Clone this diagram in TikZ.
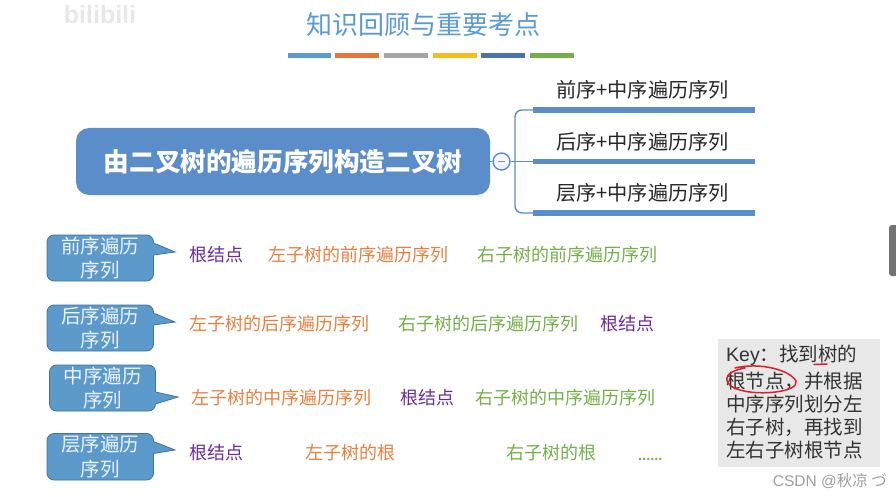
\documentclass[tikz,border=0pt]{standalone}
\usepackage{fontspec}
\setmainfont{Noto Sans CJK SC}
\newfontfamily\latinf{Liberation Sans}
\usetikzlibrary{calc}
\definecolor{tblue}{HTML}{5B9BD5}
\definecolor{mblue}{HTML}{5B8DCB}
\definecolor{cblue}{HTML}{5C9ACB}
\definecolor{cedge}{HTML}{41719C}
\definecolor{porange}{HTML}{E8743B}
\definecolor{pgray}{HTML}{A5A5A5}
\definecolor{pyellow}{HTML}{F5BE1E}
\definecolor{pblue}{HTML}{4A6FB5}
\definecolor{pgreen}{HTML}{74B04A}
\definecolor{lorange}{HTML}{E9803F}
\definecolor{lgreen}{HTML}{74B04A}
\definecolor{lpurple}{HTML}{6B2C9B}
\definecolor{keybg}{HTML}{E8E8E8}
\definecolor{keyred}{HTML}{D8202A}
\tikzset{
  fs/.style={font=\fontsize{#1}{#1}\selectfont},
  titletext/.style={fs=26,text=tblue,inner sep=0pt},
  bar/.style={fill=#1,draw=none},
  mainbox/.style={fill=mblue,draw=none,rounded corners=13pt,minimum width=414pt,minimum height=67pt,inner sep=0pt,text=white,font=\fontsize{25.6}{25.6}\selectfont\bfseries},
  collapse/.style={circle,draw=mblue,line width=1.4pt,fill=blue!4,minimum size=17pt,inner sep=0pt},
  branch/.style={draw=mblue,line width=1.4pt},
  leafline/.style={draw=mblue,line width=5.2pt},
  leaftext/.style={fs=20.2,text=black!85,inner sep=0pt},
  seqtext/.style={fs=18,inner sep=0pt,anchor=west},
  root/.style={seqtext,text=lpurple},
  lefttree/.style={seqtext,text=lorange},
  righttree/.style={seqtext,text=lgreen},
  calloutbox/.style={fill=cblue,draw=cedge,line width=0.8pt,rounded corners=7pt},
  callouttail/.style={fill=cblue,draw=cedge,line width=0.8pt,line join=miter},
  callouttext/.style={fs=19.5,text=white!88!cblue,align=center,inner sep=0pt},
  keytext/.style={fs=19.5,text=black!80,inner sep=0pt,anchor=west},
  redmark/.style={draw=keyred,line width=1.5pt,line cap=round}
}
\newcommand{\seqcallout}[8]{% name, x0, y0, x1, y1, tail top, tip, text
  \draw[calloutbox] (#2,#3) rectangle (#4,#5);
  \draw[callouttail] (#4,#6) -- #7 -- (#4,#6+12);
  \fill[cblue] (#4-1,#6+0.2) rectangle (#4+0.6,#6+11.8);
  \node[callouttext,minimum width=100pt] (#1) at ({(#2+#4)/2},{(#3+#5)/2}) {#8};
}
\begin{document}
\begin{tikzpicture}[x=1pt,y=-1pt]
\useasboundingbox (0,0) rectangle (896,497);
\fill[white] (0,0) rectangle (896,497);
% watermark and scroll handle
\node[inner sep=0pt,text=black!9,font=\fontsize{25}{25}\selectfont\bfseries\latinf] (wm) at (100,15) {bilibili};
\fill[black!55,rounded corners=3pt] (889,225) rectangle (899,276);
% title
\node[titletext] (title) at (423,25) {知识回顾与重要考点};
\foreach \a/\b/\c in {288/331/tblue,335/379/porange,384/428/pgray,433/477/pyellow,481/525/pblue,530/574/pgreen}
  \fill[bar=\c] (\a,53.5) rectangle (\b,58);
% mind map
\node[mainbox] (main) at (283,161.5) {由二叉树的遍历序列构造二叉树};
\node[collapse] (toggle) at (501.5,161.5) {};
\draw[draw=black!45,line width=1.4pt] (498,161.5) -- (505,161.5);
\coordinate (l1a) at (533,110);
\coordinate (l1b) at (755,110);
\coordinate (l2a) at (533,161.5);
\coordinate (l2b) at (755,161.5);
\coordinate (l3a) at (533,213);
\coordinate (l3b) at (755,213);
\draw[branch] (main.east) -- (toggle.west);
\draw[branch] (toggle.east) -- (l2a);
\draw[branch,rounded corners=7pt] (l1a) -- (515,110) -- (515,213) -- (l3a);
\draw[leafline] (l1a) -- (l1b);
\draw[leafline] (l2a) -- (l2b);
\draw[leafline] (l3a) -- (l3b);
\node[leaftext] (t1) at (642.5,90) {前序+中序遍历序列};
\node[leaftext] (t2) at (642.5,141.5) {后序+中序遍历序列};
\node[leaftext] (t3) at (642.5,193) {层序+中序遍历序列};
% callouts
\seqcallout{c1}{47}{235}{153.5}{281}{243}{(175,252)}{前序遍历\\[5pt]序列}
\seqcallout{c2}{47}{305}{153.5}{351}{313}{(175,322)}{后序遍历\\[5pt]序列}
\seqcallout{c3}{49.5}{365}{155.5}{411}{392}{(178,397)}{中序遍历\\[5pt]序列}
\seqcallout{c4}{47}{433.5}{153.5}{480}{441.5}{(175,450)}{层序遍历\\[5pt]序列}
% rows
\node[root] (r1a) at (189,255) {根结点};
\node[lefttree] (r1b) at (268,255) {左子树的前序遍历序列};
\node[righttree] (r1c) at (477.5,255) {右子树的前序遍历序列};
\node[lefttree] (r2a) at (189,324) {左子树的后序遍历序列};
\node[righttree] (r2b) at (398.5,324) {右子树的后序遍历序列};
\node[root] (r2c) at (600,324) {根结点};
\node[lefttree] (r3a) at (191,398) {左子树的中序遍历序列};
\node[root] (r3b) at (400.5,398) {根结点};
\node[righttree] (r3c) at (475,398) {右子树的中序遍历序列};
\node[root] (r4a) at (189,453) {根结点};
\node[lefttree] (r4b) at (305,453) {左子树的根};
\node[righttree] (r4c) at (506,453) {右子树的根};
\node[inner sep=0pt,anchor=base west,text=lgreen,font=\fontsize{14.5}{14.5}\selectfont\bfseries\latinf] (r4d) at (638,460) {......};
% key box
\fill[keybg] (718,339) rectangle (880,467);
\node[keytext] (k1) at (726,355) {{\latinf Key}：找到树的};
\node[keytext] (k2) at (726,381) {根节点，并根据};
\node[keytext] (k3) at (726,404.5) {中序序列划分左};
\node[keytext] (k4) at (726,427.5) {右子树，再找到};
\node[keytext] (k5) at (726,450) {左右子树根节点};
\draw[redmark] (735,368) .. controls (760,362) and (790,370) .. (796,381) .. controls (799,392) and (760,396) .. (740,390) .. controls (722,385) and (721,372) .. (745,368);
\draw[redmark] (814,364.5) -- (827,364);
% credit
\node[inner sep=0pt,anchor=east,text=black!38,font=\fontsize{15.5}{15.5}\selectfont\latinf] (credit) at (887,481) {CSDN @{\fontspec{Noto Sans CJK SC}秋凉 づ}};
\end{tikzpicture}
\end{document}
